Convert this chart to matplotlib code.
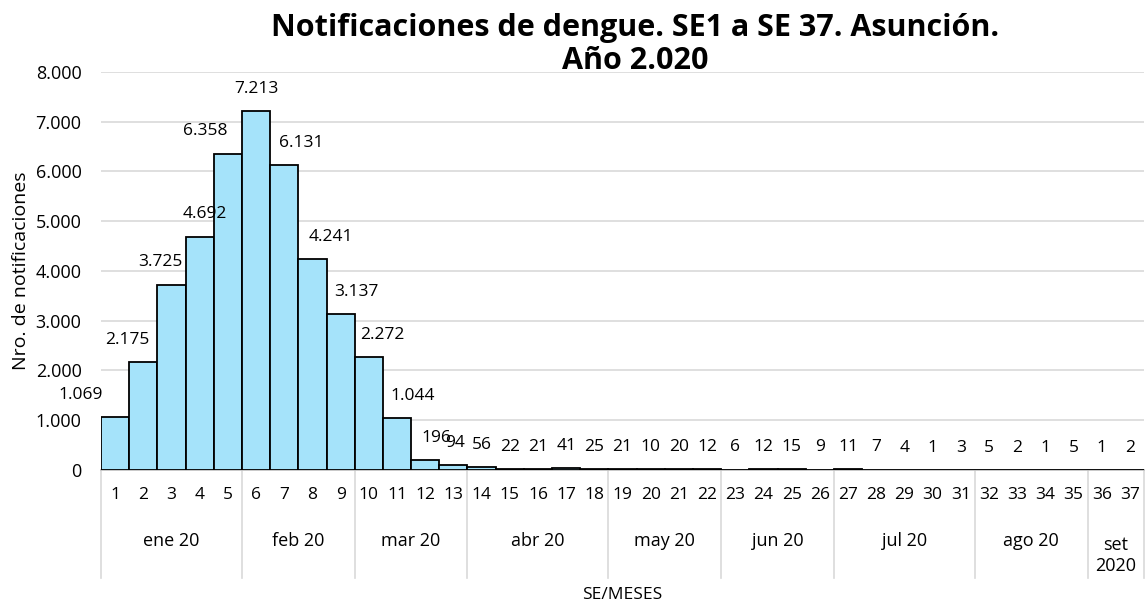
import numpy as np
import matplotlib.pyplot as plt
from matplotlib.ticker import FuncFormatter
import matplotlib.transforms as mtransforms

plt.rcParams['font.family'] = ['Open Sans', 'DejaVu Sans']

# Data
weeks = list(range(1, 38))
notificaciones = [1069, 2175, 3725, 4692, 6358, 7213, 6131, 4241, 3137, 2272, 1044, 196, 94,
                  56, 22, 21, 41, 25, 21, 10, 20, 12, 6, 12, 15, 9, 11, 7, 4, 1, 3, 5, 2, 1, 5, 1, 2]
meses = ['ene 20', 'feb 20', 'mar 20', 'abr 20', 'may 20', 'jun 20', 'jul 20', 'ago 20', 'set\n2020']
semanas_por_mes = [5, 4, 4, 5, 4, 4, 5, 4, 2]

# label nudges (px) to mimic the spreadsheet's label placement
nudge = {1: -35, 2: -16, 3: -11, 4: 5, 5: -23, 7: 17, 8: 18, 9: 16, 10: 14, 11: 16, 12: 11, 13: 2}

def miles(v, pos=None):
    return f"{v:,.0f}".replace(',', '.')

fig = plt.figure(figsize=(11.48, 6.03), dpi=100)
ax = fig.add_axes([0.088, 0.2206, 0.9085, 0.66])

ax.bar(weeks, notificaciones, width=1.0, color='#a5e3fa', edgecolor='black', linewidth=1.3, zorder=3)
ax.set_xlim(0.5, 37.5)
ax.set_ylim(0, 8000)
ax.set_yticks(np.arange(0, 8001, 1000))
ax.yaxis.set_major_formatter(FuncFormatter(miles))
ax.grid(axis='y', color='#d9d9d9', linewidth=1.2, zorder=0)
for s in ['top', 'right', 'left']:
    ax.spines[s].set_visible(False)
ax.spines['bottom'].set_color('#bfbfbf')
ax.spines['bottom'].set_linewidth(1.2)
ax.tick_params(axis='y', length=0, labelsize=13, pad=14)
ax.set_xticks(weeks)
ax.set_xticklabels([str(w) for w in weeks], fontsize=12.5)
ax.tick_params(axis='x', length=0, pad=12)

for w, v in zip(weeks, notificaciones):
    ax.annotate(miles(v), (w, v), xytext=(nudge.get(w, 0) * 0.72, 16), textcoords='offset points',
                ha='center', va='center', fontsize=12.5)

# month group labels and separators below the axis
trans = mtransforms.blended_transform_factory(ax.transData, ax.transAxes)
bounds = np.concatenate([[0], np.cumsum(semanas_por_mes)]) + 0.5
for i, m in enumerate(meses):
    mid = (bounds[i] + bounds[i + 1]) / 2
    if '\n' in m:
        ax.text(mid, -0.215, m, transform=trans, ha='center', va='center', fontsize=13, linespacing=1.2)
    else:
        ax.text(mid, -0.178, m, transform=trans, ha='center', va='center', fontsize=13)
for b in bounds:
    ax.plot([b, b], [0, -0.271], transform=trans, color='#d9d9d9', linewidth=1.2, clip_on=False)

fig.text(0.542, 0.014, 'SE/MESES', ha='center', va='center', fontsize=12.5)
ax.set_ylabel('Nro. de notificaciones', fontsize=14, labelpad=4)
fig.suptitle('Notificaciones de dengue. SE1 a SE 37. Asunción.\nAño 2.020',
             x=0.553, y=0.978, fontsize=22, fontweight='bold', linespacing=1.12)

plt.savefig('out.png', dpi=100)
